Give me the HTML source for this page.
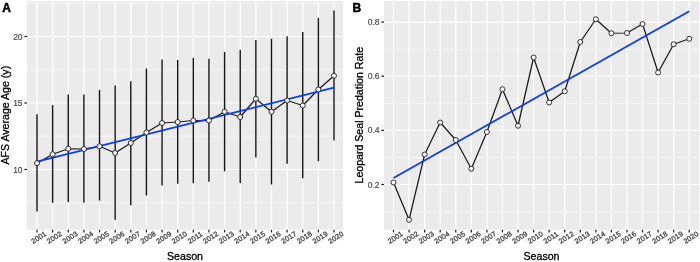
<!DOCTYPE html><html><head><meta charset="utf-8"><title>Figure</title><style>html,body{margin:0;padding:0;background:#fff}svg{display:block}text{font-family:"Liberation Sans",Arial,sans-serif}</style></head><body>
<svg width="700" height="262" viewBox="0 0 700 262">
<rect width="700" height="262" fill="#fff"/>
<rect x="27" y="1" width="316" height="228.8" fill="#ebebeb"/>
<line x1="27" x2="343" y1="3.25" y2="3.25" stroke="#fff" stroke-width="0.6" opacity="0.9"/>
<line x1="27" x2="343" y1="69.75" y2="69.75" stroke="#fff" stroke-width="0.6" opacity="0.9"/>
<line x1="27" x2="343" y1="136.25" y2="136.25" stroke="#fff" stroke-width="0.6" opacity="0.9"/>
<line x1="27" x2="343" y1="202.75" y2="202.75" stroke="#fff" stroke-width="0.6" opacity="0.9"/>
<line x1="27" x2="343" y1="36.50" y2="36.50" stroke="#fff" stroke-width="1.2"/>
<line x1="27" x2="343" y1="103.00" y2="103.00" stroke="#fff" stroke-width="1.2"/>
<line x1="27" x2="343" y1="169.50" y2="169.50" stroke="#fff" stroke-width="1.2"/>
<line x1="37.00" x2="37.00" y1="1" y2="229.8" stroke="#fff" stroke-width="1.2"/>
<line x1="52.63" x2="52.63" y1="1" y2="229.8" stroke="#fff" stroke-width="1.2"/>
<line x1="68.26" x2="68.26" y1="1" y2="229.8" stroke="#fff" stroke-width="1.2"/>
<line x1="83.90" x2="83.90" y1="1" y2="229.8" stroke="#fff" stroke-width="1.2"/>
<line x1="99.53" x2="99.53" y1="1" y2="229.8" stroke="#fff" stroke-width="1.2"/>
<line x1="115.16" x2="115.16" y1="1" y2="229.8" stroke="#fff" stroke-width="1.2"/>
<line x1="130.79" x2="130.79" y1="1" y2="229.8" stroke="#fff" stroke-width="1.2"/>
<line x1="146.42" x2="146.42" y1="1" y2="229.8" stroke="#fff" stroke-width="1.2"/>
<line x1="162.06" x2="162.06" y1="1" y2="229.8" stroke="#fff" stroke-width="1.2"/>
<line x1="177.69" x2="177.69" y1="1" y2="229.8" stroke="#fff" stroke-width="1.2"/>
<line x1="193.32" x2="193.32" y1="1" y2="229.8" stroke="#fff" stroke-width="1.2"/>
<line x1="208.95" x2="208.95" y1="1" y2="229.8" stroke="#fff" stroke-width="1.2"/>
<line x1="224.58" x2="224.58" y1="1" y2="229.8" stroke="#fff" stroke-width="1.2"/>
<line x1="240.22" x2="240.22" y1="1" y2="229.8" stroke="#fff" stroke-width="1.2"/>
<line x1="255.85" x2="255.85" y1="1" y2="229.8" stroke="#fff" stroke-width="1.2"/>
<line x1="271.48" x2="271.48" y1="1" y2="229.8" stroke="#fff" stroke-width="1.2"/>
<line x1="287.11" x2="287.11" y1="1" y2="229.8" stroke="#fff" stroke-width="1.2"/>
<line x1="302.74" x2="302.74" y1="1" y2="229.8" stroke="#fff" stroke-width="1.2"/>
<line x1="318.38" x2="318.38" y1="1" y2="229.8" stroke="#fff" stroke-width="1.2"/>
<line x1="334.01" x2="334.01" y1="1" y2="229.8" stroke="#fff" stroke-width="1.2"/>
<line x1="37.00" x2="37.00" y1="229.8" y2="232.4" stroke="#222" stroke-width="1.25"/>
<line x1="52.63" x2="52.63" y1="229.8" y2="232.4" stroke="#222" stroke-width="1.25"/>
<line x1="68.26" x2="68.26" y1="229.8" y2="232.4" stroke="#222" stroke-width="1.25"/>
<line x1="83.90" x2="83.90" y1="229.8" y2="232.4" stroke="#222" stroke-width="1.25"/>
<line x1="99.53" x2="99.53" y1="229.8" y2="232.4" stroke="#222" stroke-width="1.25"/>
<line x1="115.16" x2="115.16" y1="229.8" y2="232.4" stroke="#222" stroke-width="1.25"/>
<line x1="130.79" x2="130.79" y1="229.8" y2="232.4" stroke="#222" stroke-width="1.25"/>
<line x1="146.42" x2="146.42" y1="229.8" y2="232.4" stroke="#222" stroke-width="1.25"/>
<line x1="162.06" x2="162.06" y1="229.8" y2="232.4" stroke="#222" stroke-width="1.25"/>
<line x1="177.69" x2="177.69" y1="229.8" y2="232.4" stroke="#222" stroke-width="1.25"/>
<line x1="193.32" x2="193.32" y1="229.8" y2="232.4" stroke="#222" stroke-width="1.25"/>
<line x1="208.95" x2="208.95" y1="229.8" y2="232.4" stroke="#222" stroke-width="1.25"/>
<line x1="224.58" x2="224.58" y1="229.8" y2="232.4" stroke="#222" stroke-width="1.25"/>
<line x1="240.22" x2="240.22" y1="229.8" y2="232.4" stroke="#222" stroke-width="1.25"/>
<line x1="255.85" x2="255.85" y1="229.8" y2="232.4" stroke="#222" stroke-width="1.25"/>
<line x1="271.48" x2="271.48" y1="229.8" y2="232.4" stroke="#222" stroke-width="1.25"/>
<line x1="287.11" x2="287.11" y1="229.8" y2="232.4" stroke="#222" stroke-width="1.25"/>
<line x1="302.74" x2="302.74" y1="229.8" y2="232.4" stroke="#222" stroke-width="1.25"/>
<line x1="318.38" x2="318.38" y1="229.8" y2="232.4" stroke="#222" stroke-width="1.25"/>
<line x1="334.01" x2="334.01" y1="229.8" y2="232.4" stroke="#222" stroke-width="1.25"/>
<line x1="24.4" x2="27" y1="36.50" y2="36.50" stroke="#222" stroke-width="1.25"/>
<text x="22.6" y="39.50" font-size="8.5" fill="#444" stroke="#444" stroke-width="0.15" text-anchor="end">20</text>
<line x1="24.4" x2="27" y1="103.00" y2="103.00" stroke="#222" stroke-width="1.25"/>
<text x="22.6" y="106.00" font-size="8.5" fill="#444" stroke="#444" stroke-width="0.15" text-anchor="end">15</text>
<line x1="24.4" x2="27" y1="169.50" y2="169.50" stroke="#222" stroke-width="1.25"/>
<text x="22.6" y="172.50" font-size="8.5" fill="#444" stroke="#444" stroke-width="0.15" text-anchor="end">10</text>
<text transform="translate(38.70 237.40) rotate(-33)" x="0" y="2.6" font-size="7.2" letter-spacing="0.17" fill="#444" stroke="#444" stroke-width="0.3" text-anchor="middle">2001</text>
<text transform="translate(54.33 237.40) rotate(-33)" x="0" y="2.6" font-size="7.2" letter-spacing="0.17" fill="#444" stroke="#444" stroke-width="0.3" text-anchor="middle">2002</text>
<text transform="translate(69.96 237.40) rotate(-33)" x="0" y="2.6" font-size="7.2" letter-spacing="0.17" fill="#444" stroke="#444" stroke-width="0.3" text-anchor="middle">2003</text>
<text transform="translate(85.60 237.40) rotate(-33)" x="0" y="2.6" font-size="7.2" letter-spacing="0.17" fill="#444" stroke="#444" stroke-width="0.3" text-anchor="middle">2004</text>
<text transform="translate(101.23 237.40) rotate(-33)" x="0" y="2.6" font-size="7.2" letter-spacing="0.17" fill="#444" stroke="#444" stroke-width="0.3" text-anchor="middle">2005</text>
<text transform="translate(116.86 237.40) rotate(-33)" x="0" y="2.6" font-size="7.2" letter-spacing="0.17" fill="#444" stroke="#444" stroke-width="0.3" text-anchor="middle">2006</text>
<text transform="translate(132.49 237.40) rotate(-33)" x="0" y="2.6" font-size="7.2" letter-spacing="0.17" fill="#444" stroke="#444" stroke-width="0.3" text-anchor="middle">2007</text>
<text transform="translate(148.12 237.40) rotate(-33)" x="0" y="2.6" font-size="7.2" letter-spacing="0.17" fill="#444" stroke="#444" stroke-width="0.3" text-anchor="middle">2008</text>
<text transform="translate(163.76 237.40) rotate(-33)" x="0" y="2.6" font-size="7.2" letter-spacing="0.17" fill="#444" stroke="#444" stroke-width="0.3" text-anchor="middle">2009</text>
<text transform="translate(179.39 237.40) rotate(-33)" x="0" y="2.6" font-size="7.2" letter-spacing="0.17" fill="#444" stroke="#444" stroke-width="0.3" text-anchor="middle">2010</text>
<text transform="translate(195.02 237.40) rotate(-33)" x="0" y="2.6" font-size="7.2" letter-spacing="0.17" fill="#444" stroke="#444" stroke-width="0.3" text-anchor="middle">2011</text>
<text transform="translate(210.65 237.40) rotate(-33)" x="0" y="2.6" font-size="7.2" letter-spacing="0.17" fill="#444" stroke="#444" stroke-width="0.3" text-anchor="middle">2012</text>
<text transform="translate(226.28 237.40) rotate(-33)" x="0" y="2.6" font-size="7.2" letter-spacing="0.17" fill="#444" stroke="#444" stroke-width="0.3" text-anchor="middle">2013</text>
<text transform="translate(241.92 237.40) rotate(-33)" x="0" y="2.6" font-size="7.2" letter-spacing="0.17" fill="#444" stroke="#444" stroke-width="0.3" text-anchor="middle">2014</text>
<text transform="translate(257.55 237.40) rotate(-33)" x="0" y="2.6" font-size="7.2" letter-spacing="0.17" fill="#444" stroke="#444" stroke-width="0.3" text-anchor="middle">2015</text>
<text transform="translate(273.18 237.40) rotate(-33)" x="0" y="2.6" font-size="7.2" letter-spacing="0.17" fill="#444" stroke="#444" stroke-width="0.3" text-anchor="middle">2016</text>
<text transform="translate(288.81 237.40) rotate(-33)" x="0" y="2.6" font-size="7.2" letter-spacing="0.17" fill="#444" stroke="#444" stroke-width="0.3" text-anchor="middle">2017</text>
<text transform="translate(304.44 237.40) rotate(-33)" x="0" y="2.6" font-size="7.2" letter-spacing="0.17" fill="#444" stroke="#444" stroke-width="0.3" text-anchor="middle">2018</text>
<text transform="translate(320.08 237.40) rotate(-33)" x="0" y="2.6" font-size="7.2" letter-spacing="0.17" fill="#444" stroke="#444" stroke-width="0.3" text-anchor="middle">2019</text>
<text transform="translate(335.71 237.40) rotate(-33)" x="0" y="2.6" font-size="7.2" letter-spacing="0.17" fill="#444" stroke="#444" stroke-width="0.3" text-anchor="middle">2020</text>
<text x="185.00" y="260.3" font-size="10.6" fill="#000" stroke="#000" stroke-width="0.3" text-anchor="middle">Season</text>
<text transform="translate(8.6 115.2) rotate(-90)" font-size="10.6" fill="#000" stroke="#000" stroke-width="0.3" text-anchor="middle">AFS Average Age (y)</text>
<text x="2.2" y="11.5" font-size="12" font-weight="bold" fill="#000" stroke="#000" stroke-width="0.5">A</text>
<line x1="37.00" x2="37.00" y1="114.25" y2="211.6" stroke="#151515" stroke-width="1.4"/>
<line x1="52.63" x2="52.63" y1="105" y2="202.7" stroke="#151515" stroke-width="1.4"/>
<line x1="68.26" x2="68.26" y1="94.5" y2="202" stroke="#151515" stroke-width="1.4"/>
<line x1="83.90" x2="83.90" y1="94.5" y2="202.7" stroke="#151515" stroke-width="1.4"/>
<line x1="99.53" x2="99.53" y1="90" y2="200.6" stroke="#151515" stroke-width="1.4"/>
<line x1="115.16" x2="115.16" y1="85.5" y2="219.8" stroke="#151515" stroke-width="1.4"/>
<line x1="130.79" x2="130.79" y1="81.25" y2="205.2" stroke="#151515" stroke-width="1.4"/>
<line x1="146.42" x2="146.42" y1="68.5" y2="195.5" stroke="#151515" stroke-width="1.4"/>
<line x1="162.06" x2="162.06" y1="59.5" y2="185.5" stroke="#151515" stroke-width="1.4"/>
<line x1="177.69" x2="177.69" y1="60" y2="183.75" stroke="#151515" stroke-width="1.4"/>
<line x1="193.32" x2="193.32" y1="58" y2="183.25" stroke="#151515" stroke-width="1.4"/>
<line x1="208.95" x2="208.95" y1="58.75" y2="181.75" stroke="#151515" stroke-width="1.4"/>
<line x1="224.58" x2="224.58" y1="52" y2="171.25" stroke="#151515" stroke-width="1.4"/>
<line x1="240.22" x2="240.22" y1="50" y2="183" stroke="#151515" stroke-width="1.4"/>
<line x1="255.85" x2="255.85" y1="40" y2="157.5" stroke="#151515" stroke-width="1.4"/>
<line x1="271.48" x2="271.48" y1="38.75" y2="184.5" stroke="#151515" stroke-width="1.4"/>
<line x1="287.11" x2="287.11" y1="36.25" y2="163.75" stroke="#151515" stroke-width="1.4"/>
<line x1="302.74" x2="302.74" y1="32" y2="178.25" stroke="#151515" stroke-width="1.4"/>
<line x1="318.38" x2="318.38" y1="18" y2="161.25" stroke="#151515" stroke-width="1.4"/>
<line x1="334.01" x2="334.01" y1="10.5" y2="140.5" stroke="#151515" stroke-width="1.4"/>
<polyline fill="none" stroke="#1a1a1a" stroke-width="1.25" stroke-linejoin="round" points="37.00,163.2 52.63,154.25 68.26,148.75 83.90,149 99.53,146.25 115.16,153 130.79,143 146.42,132.5 162.06,123 177.69,122 193.32,120.5 208.95,120.5 224.58,111.75 240.22,117 255.85,98.75 271.48,111.75 287.11,100.5 302.74,105.5 318.38,89.5 334.01,75.75"/>
<line x1="37" y1="161.6" x2="334" y2="87.7" stroke="#0c3ceb" stroke-width="1.8"/>
<circle cx="37.00" cy="163.2" r="2.5" fill="#fff" stroke="#1a1a1a" stroke-width="0.9"/>
<circle cx="52.63" cy="154.25" r="2.5" fill="#fff" stroke="#1a1a1a" stroke-width="0.9"/>
<circle cx="68.26" cy="148.75" r="2.5" fill="#fff" stroke="#1a1a1a" stroke-width="0.9"/>
<circle cx="83.90" cy="149" r="2.5" fill="#fff" stroke="#1a1a1a" stroke-width="0.9"/>
<circle cx="99.53" cy="146.25" r="2.5" fill="#fff" stroke="#1a1a1a" stroke-width="0.9"/>
<circle cx="115.16" cy="153" r="2.5" fill="#fff" stroke="#1a1a1a" stroke-width="0.9"/>
<circle cx="130.79" cy="143" r="2.5" fill="#fff" stroke="#1a1a1a" stroke-width="0.9"/>
<circle cx="146.42" cy="132.5" r="2.5" fill="#fff" stroke="#1a1a1a" stroke-width="0.9"/>
<circle cx="162.06" cy="123" r="2.5" fill="#fff" stroke="#1a1a1a" stroke-width="0.9"/>
<circle cx="177.69" cy="122" r="2.5" fill="#fff" stroke="#1a1a1a" stroke-width="0.9"/>
<circle cx="193.32" cy="120.5" r="2.5" fill="#fff" stroke="#1a1a1a" stroke-width="0.9"/>
<circle cx="208.95" cy="120.5" r="2.5" fill="#fff" stroke="#1a1a1a" stroke-width="0.9"/>
<circle cx="224.58" cy="111.75" r="2.5" fill="#fff" stroke="#1a1a1a" stroke-width="0.9"/>
<circle cx="240.22" cy="117" r="2.5" fill="#fff" stroke="#1a1a1a" stroke-width="0.9"/>
<circle cx="255.85" cy="98.75" r="2.5" fill="#fff" stroke="#1a1a1a" stroke-width="0.9"/>
<circle cx="271.48" cy="111.75" r="2.5" fill="#fff" stroke="#1a1a1a" stroke-width="0.9"/>
<circle cx="287.11" cy="100.5" r="2.5" fill="#fff" stroke="#1a1a1a" stroke-width="0.9"/>
<circle cx="302.74" cy="105.5" r="2.5" fill="#fff" stroke="#1a1a1a" stroke-width="0.9"/>
<circle cx="318.38" cy="89.5" r="2.5" fill="#fff" stroke="#1a1a1a" stroke-width="0.9"/>
<circle cx="334.01" cy="75.75" r="2.5" fill="#fff" stroke="#1a1a1a" stroke-width="0.9"/>
<rect x="384" y="1" width="315" height="228.8" fill="#ebebeb"/>
<line x1="384" x2="699" y1="49.17" y2="49.17" stroke="#fff" stroke-width="0.6" opacity="0.9"/>
<line x1="384" x2="699" y1="103.31" y2="103.31" stroke="#fff" stroke-width="0.6" opacity="0.9"/>
<line x1="384" x2="699" y1="157.45" y2="157.45" stroke="#fff" stroke-width="0.6" opacity="0.9"/>
<line x1="384" x2="699" y1="211.59" y2="211.59" stroke="#fff" stroke-width="0.6" opacity="0.9"/>
<line x1="384" x2="699" y1="22.10" y2="22.10" stroke="#fff" stroke-width="1.2"/>
<line x1="384" x2="699" y1="76.24" y2="76.24" stroke="#fff" stroke-width="1.2"/>
<line x1="384" x2="699" y1="130.38" y2="130.38" stroke="#fff" stroke-width="1.2"/>
<line x1="384" x2="699" y1="184.52" y2="184.52" stroke="#fff" stroke-width="1.2"/>
<line x1="393.50" x2="393.50" y1="1" y2="229.8" stroke="#fff" stroke-width="1.2"/>
<line x1="409.06" x2="409.06" y1="1" y2="229.8" stroke="#fff" stroke-width="1.2"/>
<line x1="424.63" x2="424.63" y1="1" y2="229.8" stroke="#fff" stroke-width="1.2"/>
<line x1="440.19" x2="440.19" y1="1" y2="229.8" stroke="#fff" stroke-width="1.2"/>
<line x1="455.76" x2="455.76" y1="1" y2="229.8" stroke="#fff" stroke-width="1.2"/>
<line x1="471.32" x2="471.32" y1="1" y2="229.8" stroke="#fff" stroke-width="1.2"/>
<line x1="486.89" x2="486.89" y1="1" y2="229.8" stroke="#fff" stroke-width="1.2"/>
<line x1="502.45" x2="502.45" y1="1" y2="229.8" stroke="#fff" stroke-width="1.2"/>
<line x1="518.02" x2="518.02" y1="1" y2="229.8" stroke="#fff" stroke-width="1.2"/>
<line x1="533.59" x2="533.59" y1="1" y2="229.8" stroke="#fff" stroke-width="1.2"/>
<line x1="549.15" x2="549.15" y1="1" y2="229.8" stroke="#fff" stroke-width="1.2"/>
<line x1="564.72" x2="564.72" y1="1" y2="229.8" stroke="#fff" stroke-width="1.2"/>
<line x1="580.28" x2="580.28" y1="1" y2="229.8" stroke="#fff" stroke-width="1.2"/>
<line x1="595.85" x2="595.85" y1="1" y2="229.8" stroke="#fff" stroke-width="1.2"/>
<line x1="611.41" x2="611.41" y1="1" y2="229.8" stroke="#fff" stroke-width="1.2"/>
<line x1="626.98" x2="626.98" y1="1" y2="229.8" stroke="#fff" stroke-width="1.2"/>
<line x1="642.54" x2="642.54" y1="1" y2="229.8" stroke="#fff" stroke-width="1.2"/>
<line x1="658.11" x2="658.11" y1="1" y2="229.8" stroke="#fff" stroke-width="1.2"/>
<line x1="673.67" x2="673.67" y1="1" y2="229.8" stroke="#fff" stroke-width="1.2"/>
<line x1="689.24" x2="689.24" y1="1" y2="229.8" stroke="#fff" stroke-width="1.2"/>
<line x1="393.50" x2="393.50" y1="229.8" y2="232.4" stroke="#222" stroke-width="1.25"/>
<line x1="409.06" x2="409.06" y1="229.8" y2="232.4" stroke="#222" stroke-width="1.25"/>
<line x1="424.63" x2="424.63" y1="229.8" y2="232.4" stroke="#222" stroke-width="1.25"/>
<line x1="440.19" x2="440.19" y1="229.8" y2="232.4" stroke="#222" stroke-width="1.25"/>
<line x1="455.76" x2="455.76" y1="229.8" y2="232.4" stroke="#222" stroke-width="1.25"/>
<line x1="471.32" x2="471.32" y1="229.8" y2="232.4" stroke="#222" stroke-width="1.25"/>
<line x1="486.89" x2="486.89" y1="229.8" y2="232.4" stroke="#222" stroke-width="1.25"/>
<line x1="502.45" x2="502.45" y1="229.8" y2="232.4" stroke="#222" stroke-width="1.25"/>
<line x1="518.02" x2="518.02" y1="229.8" y2="232.4" stroke="#222" stroke-width="1.25"/>
<line x1="533.59" x2="533.59" y1="229.8" y2="232.4" stroke="#222" stroke-width="1.25"/>
<line x1="549.15" x2="549.15" y1="229.8" y2="232.4" stroke="#222" stroke-width="1.25"/>
<line x1="564.72" x2="564.72" y1="229.8" y2="232.4" stroke="#222" stroke-width="1.25"/>
<line x1="580.28" x2="580.28" y1="229.8" y2="232.4" stroke="#222" stroke-width="1.25"/>
<line x1="595.85" x2="595.85" y1="229.8" y2="232.4" stroke="#222" stroke-width="1.25"/>
<line x1="611.41" x2="611.41" y1="229.8" y2="232.4" stroke="#222" stroke-width="1.25"/>
<line x1="626.98" x2="626.98" y1="229.8" y2="232.4" stroke="#222" stroke-width="1.25"/>
<line x1="642.54" x2="642.54" y1="229.8" y2="232.4" stroke="#222" stroke-width="1.25"/>
<line x1="658.11" x2="658.11" y1="229.8" y2="232.4" stroke="#222" stroke-width="1.25"/>
<line x1="673.67" x2="673.67" y1="229.8" y2="232.4" stroke="#222" stroke-width="1.25"/>
<line x1="689.24" x2="689.24" y1="229.8" y2="232.4" stroke="#222" stroke-width="1.25"/>
<line x1="381.4" x2="384" y1="22.10" y2="22.10" stroke="#222" stroke-width="1.25"/>
<text x="379.6" y="25.10" font-size="8.5" fill="#444" stroke="#444" stroke-width="0.15" text-anchor="end">0.8</text>
<line x1="381.4" x2="384" y1="76.24" y2="76.24" stroke="#222" stroke-width="1.25"/>
<text x="379.6" y="79.24" font-size="8.5" fill="#444" stroke="#444" stroke-width="0.15" text-anchor="end">0.6</text>
<line x1="381.4" x2="384" y1="130.38" y2="130.38" stroke="#222" stroke-width="1.25"/>
<text x="379.6" y="133.38" font-size="8.5" fill="#444" stroke="#444" stroke-width="0.15" text-anchor="end">0.4</text>
<line x1="381.4" x2="384" y1="184.52" y2="184.52" stroke="#222" stroke-width="1.25"/>
<text x="379.6" y="187.52" font-size="8.5" fill="#444" stroke="#444" stroke-width="0.15" text-anchor="end">0.2</text>
<text transform="translate(395.20 237.40) rotate(-33)" x="0" y="2.6" font-size="7.2" letter-spacing="0.17" fill="#444" stroke="#444" stroke-width="0.3" text-anchor="middle">2001</text>
<text transform="translate(410.76 237.40) rotate(-33)" x="0" y="2.6" font-size="7.2" letter-spacing="0.17" fill="#444" stroke="#444" stroke-width="0.3" text-anchor="middle">2002</text>
<text transform="translate(426.33 237.40) rotate(-33)" x="0" y="2.6" font-size="7.2" letter-spacing="0.17" fill="#444" stroke="#444" stroke-width="0.3" text-anchor="middle">2003</text>
<text transform="translate(441.89 237.40) rotate(-33)" x="0" y="2.6" font-size="7.2" letter-spacing="0.17" fill="#444" stroke="#444" stroke-width="0.3" text-anchor="middle">2004</text>
<text transform="translate(457.46 237.40) rotate(-33)" x="0" y="2.6" font-size="7.2" letter-spacing="0.17" fill="#444" stroke="#444" stroke-width="0.3" text-anchor="middle">2005</text>
<text transform="translate(473.02 237.40) rotate(-33)" x="0" y="2.6" font-size="7.2" letter-spacing="0.17" fill="#444" stroke="#444" stroke-width="0.3" text-anchor="middle">2006</text>
<text transform="translate(488.59 237.40) rotate(-33)" x="0" y="2.6" font-size="7.2" letter-spacing="0.17" fill="#444" stroke="#444" stroke-width="0.3" text-anchor="middle">2007</text>
<text transform="translate(504.15 237.40) rotate(-33)" x="0" y="2.6" font-size="7.2" letter-spacing="0.17" fill="#444" stroke="#444" stroke-width="0.3" text-anchor="middle">2008</text>
<text transform="translate(519.72 237.40) rotate(-33)" x="0" y="2.6" font-size="7.2" letter-spacing="0.17" fill="#444" stroke="#444" stroke-width="0.3" text-anchor="middle">2009</text>
<text transform="translate(535.29 237.40) rotate(-33)" x="0" y="2.6" font-size="7.2" letter-spacing="0.17" fill="#444" stroke="#444" stroke-width="0.3" text-anchor="middle">2010</text>
<text transform="translate(550.85 237.40) rotate(-33)" x="0" y="2.6" font-size="7.2" letter-spacing="0.17" fill="#444" stroke="#444" stroke-width="0.3" text-anchor="middle">2011</text>
<text transform="translate(566.42 237.40) rotate(-33)" x="0" y="2.6" font-size="7.2" letter-spacing="0.17" fill="#444" stroke="#444" stroke-width="0.3" text-anchor="middle">2012</text>
<text transform="translate(581.98 237.40) rotate(-33)" x="0" y="2.6" font-size="7.2" letter-spacing="0.17" fill="#444" stroke="#444" stroke-width="0.3" text-anchor="middle">2013</text>
<text transform="translate(597.55 237.40) rotate(-33)" x="0" y="2.6" font-size="7.2" letter-spacing="0.17" fill="#444" stroke="#444" stroke-width="0.3" text-anchor="middle">2014</text>
<text transform="translate(613.11 237.40) rotate(-33)" x="0" y="2.6" font-size="7.2" letter-spacing="0.17" fill="#444" stroke="#444" stroke-width="0.3" text-anchor="middle">2015</text>
<text transform="translate(628.68 237.40) rotate(-33)" x="0" y="2.6" font-size="7.2" letter-spacing="0.17" fill="#444" stroke="#444" stroke-width="0.3" text-anchor="middle">2016</text>
<text transform="translate(644.24 237.40) rotate(-33)" x="0" y="2.6" font-size="7.2" letter-spacing="0.17" fill="#444" stroke="#444" stroke-width="0.3" text-anchor="middle">2017</text>
<text transform="translate(659.81 237.40) rotate(-33)" x="0" y="2.6" font-size="7.2" letter-spacing="0.17" fill="#444" stroke="#444" stroke-width="0.3" text-anchor="middle">2018</text>
<text transform="translate(675.37 237.40) rotate(-33)" x="0" y="2.6" font-size="7.2" letter-spacing="0.17" fill="#444" stroke="#444" stroke-width="0.3" text-anchor="middle">2019</text>
<text transform="translate(690.94 237.40) rotate(-33)" x="0" y="2.6" font-size="7.2" letter-spacing="0.17" fill="#444" stroke="#444" stroke-width="0.3" text-anchor="middle">2020</text>
<text x="541.50" y="260.3" font-size="10.6" fill="#000" stroke="#000" stroke-width="0.3" text-anchor="middle">Season</text>
<text transform="translate(362.8 115.2) rotate(-90)" font-size="10.6" fill="#000" stroke="#000" stroke-width="0.3" text-anchor="middle">Leopard Seal Predation Rate</text>
<text x="352.6" y="11.5" font-size="12" font-weight="bold" fill="#000" stroke="#000" stroke-width="0.5">B</text>
<polyline fill="none" stroke="#1a1a1a" stroke-width="1.25" stroke-linejoin="round" points="393.50,182.5 409.06,219.8 424.63,154.5 440.19,122.5 455.76,140 471.32,168.75 486.89,132 502.45,89.25 518.02,125.75 533.59,57.5 549.15,102.5 564.72,91.25 580.28,42 595.85,19.25 611.41,33.25 626.98,33 642.54,24 658.11,72.5 673.67,44.25 689.24,38.75"/>
<line x1="393.5" y1="178" x2="689.25" y2="11.25" stroke="#0c3ceb" stroke-width="1.8"/>
<circle cx="393.50" cy="182.5" r="2.5" fill="#fff" stroke="#1a1a1a" stroke-width="0.9"/>
<circle cx="409.06" cy="219.8" r="2.5" fill="#fff" stroke="#1a1a1a" stroke-width="0.9"/>
<circle cx="424.63" cy="154.5" r="2.5" fill="#fff" stroke="#1a1a1a" stroke-width="0.9"/>
<circle cx="440.19" cy="122.5" r="2.5" fill="#fff" stroke="#1a1a1a" stroke-width="0.9"/>
<circle cx="455.76" cy="140" r="2.5" fill="#fff" stroke="#1a1a1a" stroke-width="0.9"/>
<circle cx="471.32" cy="168.75" r="2.5" fill="#fff" stroke="#1a1a1a" stroke-width="0.9"/>
<circle cx="486.89" cy="132" r="2.5" fill="#fff" stroke="#1a1a1a" stroke-width="0.9"/>
<circle cx="502.45" cy="89.25" r="2.5" fill="#fff" stroke="#1a1a1a" stroke-width="0.9"/>
<circle cx="518.02" cy="125.75" r="2.5" fill="#fff" stroke="#1a1a1a" stroke-width="0.9"/>
<circle cx="533.59" cy="57.5" r="2.5" fill="#fff" stroke="#1a1a1a" stroke-width="0.9"/>
<circle cx="549.15" cy="102.5" r="2.5" fill="#fff" stroke="#1a1a1a" stroke-width="0.9"/>
<circle cx="564.72" cy="91.25" r="2.5" fill="#fff" stroke="#1a1a1a" stroke-width="0.9"/>
<circle cx="580.28" cy="42" r="2.5" fill="#fff" stroke="#1a1a1a" stroke-width="0.9"/>
<circle cx="595.85" cy="19.25" r="2.5" fill="#fff" stroke="#1a1a1a" stroke-width="0.9"/>
<circle cx="611.41" cy="33.25" r="2.5" fill="#fff" stroke="#1a1a1a" stroke-width="0.9"/>
<circle cx="626.98" cy="33" r="2.5" fill="#fff" stroke="#1a1a1a" stroke-width="0.9"/>
<circle cx="642.54" cy="24" r="2.5" fill="#fff" stroke="#1a1a1a" stroke-width="0.9"/>
<circle cx="658.11" cy="72.5" r="2.5" fill="#fff" stroke="#1a1a1a" stroke-width="0.9"/>
<circle cx="673.67" cy="44.25" r="2.5" fill="#fff" stroke="#1a1a1a" stroke-width="0.9"/>
<circle cx="689.24" cy="38.75" r="2.5" fill="#fff" stroke="#1a1a1a" stroke-width="0.9"/>
</svg></body></html>
